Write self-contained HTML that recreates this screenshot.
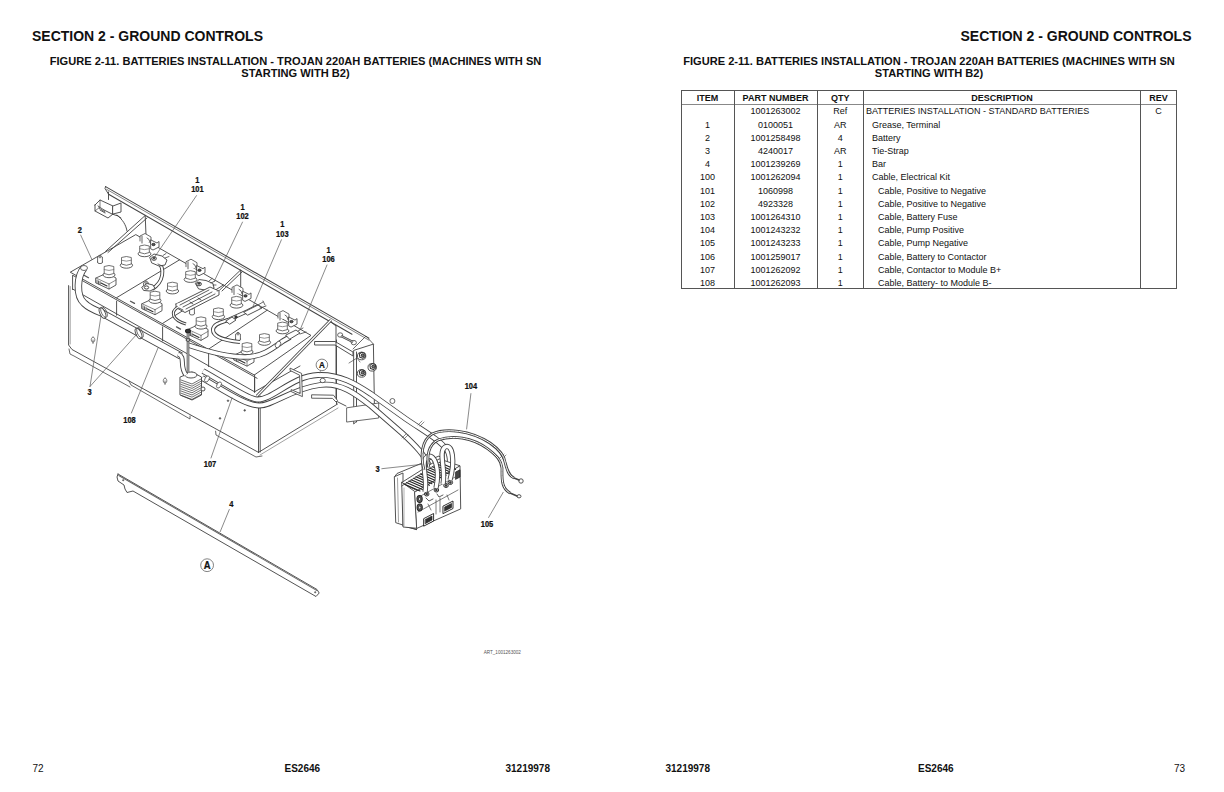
<!DOCTYPE html>
<html><head><meta charset="utf-8">
<style>
html,body{margin:0;padding:0;background:#fff;}
body{width:1224px;height:792px;position:relative;overflow:hidden;font-family:"Liberation Sans",sans-serif;color:#111;}
.t{position:absolute;white-space:nowrap;line-height:1;}
.b{font-weight:bold;}
.c{transform:translateX(-50%);}
.r{transform:translateX(-100%);}
.sec{font-size:14px;font-weight:bold;}
.fig{font-size:11.1px;font-weight:bold;}
.ft{font-size:10px;}
.tb{font-size:9px;}
.ln{position:absolute;background:#555;}
svg{position:absolute;left:0;top:0;}
</style></head><body>
<!-- LEFT PAGE -->
<div class="t sec" style="left:32px;top:29px;">SECTION 2 - GROUND CONTROLS</div>
<div class="t fig c" style="left:295.5px;top:56.1px;">FIGURE 2-11. BATTERIES INSTALLATION - TROJAN 220AH BATTERIES (MACHINES WITH SN</div>
<div class="t fig c" style="left:295.5px;top:68.2px;">STARTING WITH B2)</div>

<div class="t ft" style="left:32.5px;top:763.5px;">72</div>
<div class="t ft b" style="left:284.5px;top:763.5px;">ES2646</div>
<div class="t ft b" style="left:505.5px;top:763.5px;">31219978</div>

<!-- RIGHT PAGE -->
<div class="t sec r" style="left:1191.5px;top:29px;">SECTION 2 - GROUND CONTROLS</div>
<div class="t fig c" style="left:929px;top:56.1px;">FIGURE 2-11. BATTERIES INSTALLATION - TROJAN 220AH BATTERIES (MACHINES WITH SN</div>
<div class="t fig c" style="left:929px;top:68.2px;">STARTING WITH B2)</div>

<div class="t ft b" style="left:665.5px;top:763.5px;">31219978</div>
<div class="t ft b" style="left:918px;top:763.5px;">ES2646</div>
<div class="t ft" style="left:1174px;top:763.5px;">73</div>

<!-- DRAWING -->
<svg width="1224" height="792" viewBox="0 0 1224 792">
<!--SVG-->
<polyline points="105.6,186.6 369.0,338.1" fill="none" stroke="#444" stroke-width="1.03" stroke-linejoin="round" stroke-linecap="round"/>
<polyline points="106.6,189.3 369.0,340.2" fill="none" stroke="#666" stroke-width="0.80" stroke-linejoin="round" stroke-linecap="round"/>
<polyline points="108.6,194.3 352.0,334.3" fill="none" stroke="#444" stroke-width="1.03" stroke-linejoin="round" stroke-linecap="round"/>
<polyline points="105.6,186.6 105.0,188.5 108.6,194.3" fill="none" stroke="#444" stroke-width="0.92" stroke-linejoin="round" stroke-linecap="round"/>
<line x1="108.5" y1="192.0" x2="108.5" y2="199.5" stroke="#444" stroke-width="0.92" stroke-linecap="round"/>
<polygon points="95.0,205.0 100.0,200.0 113.0,206.0 113.0,214.0 108.0,218.0 95.0,211.0 95.0,205.0" fill="#fff" stroke="#444" stroke-width="0.92" stroke-linejoin="round" stroke-linecap="round"/>
<polyline points="100.0,200.0 100.0,207.0 95.0,211.0" fill="none" stroke="#444" stroke-width="0.69" stroke-linejoin="round" stroke-linecap="round"/>
<polygon points="113.0,206.0 121.0,203.0 121.0,212.0 113.0,214.0" fill="#fff" stroke="#444" stroke-width="0.92" stroke-linejoin="round" stroke-linecap="round"/>
<polyline points="104.0,210.0 112.0,214.0 118.0,216.0 121.0,218.0" fill="none" stroke="#444" stroke-width="0.92" stroke-linejoin="round" stroke-linecap="round"/>
<path d="M98,206 l6,4 M99,208 l6,4 M100,210 l5,3" fill="none" stroke="#333" stroke-width="0.80" stroke-linejoin="round" stroke-linecap="round"/>
<path d="M117,215 C123,220 126,225 127,231" fill="none" stroke="#444" stroke-width="0.92" stroke-linejoin="round" stroke-linecap="round"/>
<polyline points="105.5,251.4 145.2,215.5 146.2,240.0" fill="none" stroke="#444" stroke-width="0.92" stroke-linejoin="round" stroke-linecap="round"/>
<line x1="108.0" y1="252.5" x2="147.0" y2="218.0" stroke="#444" stroke-width="0.92" stroke-linecap="round"/>
<polyline points="219.5,290.2 240.7,269.9 240.7,292.0" fill="none" stroke="#444" stroke-width="0.92" stroke-linejoin="round" stroke-linecap="round"/>
<line x1="222.0" y1="291.0" x2="242.0" y2="272.0" stroke="#444" stroke-width="0.92" stroke-linecap="round"/>
<polyline points="68.6,285.6 68.6,345.0 72.0,349.5 258.5,452.4" fill="none" stroke="#444" stroke-width="0.92" stroke-linejoin="round" stroke-linecap="round"/>
<polyline points="70.2,286.5 70.2,344.0" fill="none" stroke="#777" stroke-width="0.69" stroke-linejoin="round" stroke-linecap="round"/>
<polyline points="69.0,349.0 70.0,354.0 74.0,356.0 130.0,387.0" fill="none" stroke="#444" stroke-width="0.80" stroke-linejoin="round" stroke-linecap="round"/>
<polyline points="129.0,381.0 131.0,385.0 190.0,419.0 190.0,416.0" fill="none" stroke="#444" stroke-width="0.80" stroke-linejoin="round" stroke-linecap="round"/>
<polyline points="215.6,431.2 216.0,435.0 256.0,457.0 262.0,456.0" fill="none" stroke="#444" stroke-width="0.80" stroke-linejoin="round" stroke-linecap="round"/>
<line x1="258.5" y1="395.0" x2="258.5" y2="452.4" stroke="#444" stroke-width="0.92" stroke-linecap="round"/>
<line x1="260.2" y1="396.0" x2="260.2" y2="452.0" stroke="#444" stroke-width="0.92" stroke-linecap="round"/>
<polyline points="258.5,452.4 337.6,404.0" fill="none" stroke="#444" stroke-width="0.92" stroke-linejoin="round" stroke-linecap="round"/>
<polyline points="260.0,455.0 338.0,408.0" fill="none" stroke="#777" stroke-width="0.69" stroke-linejoin="round" stroke-linecap="round"/>
<line x1="336.5" y1="340.0" x2="336.5" y2="404.0" stroke="#444" stroke-width="0.92" stroke-linecap="round"/>
<path d="M93,337 a1.8,2.6 0 1 0 0.1,0 M93,340 l0,3.5" fill="none" stroke="#555" stroke-width="0.80" stroke-linejoin="round" stroke-linecap="round"/>
<path d="M165,378 a1.8,2.6 0 1 0 0.1,0 M165,381 l0,3.5" fill="none" stroke="#555" stroke-width="0.80" stroke-linejoin="round" stroke-linecap="round"/>
<ellipse cx="228.0" cy="400.7" rx="0.8" ry="0.8" fill="#555" stroke="#555" stroke-width="0.69"/>
<ellipse cx="244.7" cy="410.4" rx="0.8" ry="0.8" fill="#555" stroke="#555" stroke-width="0.69"/>
<ellipse cx="220.0" cy="418.4" rx="0.8" ry="0.8" fill="#555" stroke="#555" stroke-width="0.69"/>
<polygon points="70.6,272.0 135.8,234.6 311.0,335.4 254.6,374.8" fill="none" stroke="#444" stroke-width="0.92" stroke-linejoin="round" stroke-linecap="round"/>
<line x1="116.6" y1="297.7" x2="179.6" y2="259.8" stroke="#444" stroke-width="0.92" stroke-linecap="round"/>
<line x1="162.6" y1="323.4" x2="223.4" y2="285.0" stroke="#444" stroke-width="0.92" stroke-linecap="round"/>
<line x1="208.6" y1="349.1" x2="267.2" y2="310.2" stroke="#444" stroke-width="0.92" stroke-linecap="round"/>
<line x1="73.1" y1="275.5" x2="257.1" y2="378.3" stroke="#444" stroke-width="0.92" stroke-linecap="round"/>
<line x1="72.6" y1="275.5" x2="72.6" y2="289.5" stroke="#444" stroke-width="0.92" stroke-linecap="round"/>
<line x1="116.6" y1="301.2" x2="116.6" y2="315.2" stroke="#444" stroke-width="0.92" stroke-linecap="round"/>
<line x1="162.6" y1="326.9" x2="162.6" y2="340.9" stroke="#444" stroke-width="0.92" stroke-linecap="round"/>
<line x1="208.6" y1="352.6" x2="208.6" y2="366.6" stroke="#444" stroke-width="0.92" stroke-linecap="round"/>
<line x1="254.6" y1="378.3" x2="254.6" y2="392.3" stroke="#444" stroke-width="0.92" stroke-linecap="round"/>
<line x1="72.6" y1="289.0" x2="254.6" y2="391.8" stroke="#444" stroke-width="0.92" stroke-linecap="round"/>
<line x1="254.6" y1="374.8" x2="254.6" y2="391.8" stroke="#444" stroke-width="0.92" stroke-linecap="round"/>
<line x1="254.6" y1="391.8" x2="300.0" y2="366.0" stroke="#444" stroke-width="0.92" stroke-linecap="round"/>
<polyline points="140.0,241.0 140.0,236.0 145.0,233.5 151.0,237.0 151.0,243.0" fill="#fff" stroke="#444" stroke-width="0.80" stroke-linejoin="round" stroke-linecap="round"/>
<polygon points="151.0,240.0 157.0,243.0 159.0,241.5 159.0,247.0 153.0,250.0 151.0,249.0" fill="#fff" stroke="#444" stroke-width="0.86" stroke-linejoin="round" stroke-linecap="round"/>
<line x1="142.0" y1="236.0" x2="142.0" y2="243.0" stroke="#666" stroke-width="1.03" stroke-linecap="round"/>
<path d="M147,238.0 l2,1.5 l1,3" fill="none" stroke="#444" stroke-width="0.80" stroke-linejoin="round" stroke-linecap="round"/>
<ellipse cx="144.5" cy="253.8" rx="6.4" ry="2.9" fill="#fff" stroke="#444" stroke-width="0.86"/>
<path d="M139.7,246.0 L139.7,252.5 Q144.5,255.1 149.3,252.5 L149.3,246.0 Q144.5,244.0 139.7,246.0 Z" fill="#fff" stroke="#444" stroke-width="0.75"/>
<path d="M139.7,248.8 Q144.5,250.6 149.3,248.8" fill="none" stroke="#666" stroke-width="0.69" stroke-linejoin="round" stroke-linecap="round"/>
<ellipse cx="126.4" cy="265.3" rx="6.2" ry="2.9" fill="#fff" stroke="#444" stroke-width="0.86"/>
<path d="M121.5,257.5 L121.5,264.0 Q126.4,266.6 131.3,264.0 L131.3,257.5 Q126.4,255.5 121.5,257.5 Z" fill="#fff" stroke="#444" stroke-width="0.75"/>
<path d="M121.5,260.3 Q126.4,262.1 131.3,260.3" fill="none" stroke="#666" stroke-width="0.69" stroke-linejoin="round" stroke-linecap="round"/>
<polygon points="96.0,278.0 107.0,273.0 116.0,278.0 116.0,285.0 109.0,289.0 96.0,283.0" fill="#fff" stroke="#444" stroke-width="0.86" stroke-linejoin="round" stroke-linecap="round"/>
<line x1="96.0" y1="278.0" x2="109.0" y2="284.0" stroke="#555" stroke-width="0.69" stroke-linecap="round"/>
<line x1="109.0" y1="284.0" x2="109.0" y2="289.0" stroke="#555" stroke-width="0.69" stroke-linecap="round"/>
<line x1="109.0" y1="284.0" x2="116.0" y2="280.0" stroke="#555" stroke-width="0.69" stroke-linecap="round"/>
<path d="M97,280.0 l0,3 M98.5,281.0 l0,3 M100,281.5 l0,3" fill="none" stroke="#555" stroke-width="0.92" stroke-linejoin="round" stroke-linecap="round"/>
<path d="M101,283.0 l6,3" fill="none" stroke="#333" stroke-width="1.15" stroke-linejoin="round" stroke-linecap="round"/>
<ellipse cx="109.0" cy="274.8" rx="6.0" ry="2.9" fill="#fff" stroke="#444" stroke-width="0.86"/>
<path d="M104.2,266.5 L104.2,273.5 Q109.0,276.1 113.8,273.5 L113.8,266.5 Q109.0,264.5 104.2,266.5 Z" fill="#fff" stroke="#444" stroke-width="0.75"/>
<path d="M104.2,269.6 Q109.0,271.4 113.8,269.6" fill="none" stroke="#666" stroke-width="0.69" stroke-linejoin="round" stroke-linecap="round"/>
<path d="M84.5,275.5 l4,2.2" fill="none" stroke="#555" stroke-width="1.26" stroke-linejoin="round" stroke-linecap="round"/>
<ellipse cx="153.5" cy="244.5" rx="1.6" ry="1.2" fill="#555" stroke="#222" stroke-width="0.80"/>
<ellipse cx="100.0" cy="262.0" rx="2.6" ry="1.6" fill="#fff" stroke="#444" stroke-width="0.80"/>
<polyline points="97.6,262.0 97.6,257.0 100.0,255.0 102.4,257.0 102.4,262.0" fill="#fff" stroke="#444" stroke-width="0.80" stroke-linejoin="round" stroke-linecap="round"/>
<ellipse cx="100.0" cy="257.0" rx="1.2" ry="0.8" fill="#fff" stroke="#444" stroke-width="0.69"/>
<polyline points="186.0,266.7 186.0,261.7 191.0,259.2 197.0,262.7 197.0,268.7" fill="#fff" stroke="#444" stroke-width="0.80" stroke-linejoin="round" stroke-linecap="round"/>
<polygon points="197.0,265.7 203.0,268.7 205.0,267.2 205.0,272.7 199.0,275.7 197.0,274.7" fill="#fff" stroke="#444" stroke-width="0.86" stroke-linejoin="round" stroke-linecap="round"/>
<line x1="188.0" y1="261.7" x2="188.0" y2="268.7" stroke="#666" stroke-width="1.03" stroke-linecap="round"/>
<path d="M193,263.7 l2,1.5 l1,3" fill="none" stroke="#444" stroke-width="0.80" stroke-linejoin="round" stroke-linecap="round"/>
<ellipse cx="190.5" cy="279.5" rx="6.4" ry="2.9" fill="#fff" stroke="#444" stroke-width="0.86"/>
<path d="M185.7,271.7 L185.7,278.2 Q190.5,280.8 195.3,278.2 L195.3,271.7 Q190.5,269.7 185.7,271.7 Z" fill="#fff" stroke="#444" stroke-width="0.75"/>
<path d="M185.7,274.5 Q190.5,276.3 195.3,274.5" fill="none" stroke="#666" stroke-width="0.69" stroke-linejoin="round" stroke-linecap="round"/>
<ellipse cx="172.4" cy="291.0" rx="6.2" ry="2.9" fill="#fff" stroke="#444" stroke-width="0.86"/>
<path d="M167.5,283.2 L167.5,289.7 Q172.4,292.3 177.3,289.7 L177.3,283.2 Q172.4,281.2 167.5,283.2 Z" fill="#fff" stroke="#444" stroke-width="0.75"/>
<path d="M167.5,286.0 Q172.4,287.8 177.3,286.0" fill="none" stroke="#666" stroke-width="0.69" stroke-linejoin="round" stroke-linecap="round"/>
<polygon points="142.0,303.7 153.0,298.7 162.0,303.7 162.0,310.7 155.0,314.7 142.0,308.7" fill="#fff" stroke="#444" stroke-width="0.86" stroke-linejoin="round" stroke-linecap="round"/>
<line x1="142.0" y1="303.7" x2="155.0" y2="309.7" stroke="#555" stroke-width="0.69" stroke-linecap="round"/>
<line x1="155.0" y1="309.7" x2="155.0" y2="314.7" stroke="#555" stroke-width="0.69" stroke-linecap="round"/>
<line x1="155.0" y1="309.7" x2="162.0" y2="305.7" stroke="#555" stroke-width="0.69" stroke-linecap="round"/>
<path d="M143,305.7 l0,3 M144.5,306.7 l0,3 M146,307.2 l0,3" fill="none" stroke="#555" stroke-width="0.92" stroke-linejoin="round" stroke-linecap="round"/>
<path d="M147,308.7 l6,3" fill="none" stroke="#333" stroke-width="1.15" stroke-linejoin="round" stroke-linecap="round"/>
<ellipse cx="155.0" cy="300.5" rx="6.0" ry="2.9" fill="#fff" stroke="#444" stroke-width="0.86"/>
<path d="M150.2,292.2 L150.2,299.2 Q155.0,301.8 159.8,299.2 L159.8,292.2 Q155.0,290.2 150.2,292.2 Z" fill="#fff" stroke="#444" stroke-width="0.75"/>
<path d="M150.2,295.2 Q155.0,297.1 159.8,295.2" fill="none" stroke="#666" stroke-width="0.69" stroke-linejoin="round" stroke-linecap="round"/>
<path d="M130.5,301.2 l4,2.2" fill="none" stroke="#555" stroke-width="1.26" stroke-linejoin="round" stroke-linecap="round"/>
<ellipse cx="199.5" cy="270.2" rx="1.6" ry="1.2" fill="#555" stroke="#222" stroke-width="0.80"/>
<ellipse cx="146.0" cy="287.7" rx="2.6" ry="1.6" fill="#fff" stroke="#444" stroke-width="0.80"/>
<polyline points="143.6,287.7 143.6,282.7 146.0,280.7 148.4,282.7 148.4,287.7" fill="#fff" stroke="#444" stroke-width="0.80" stroke-linejoin="round" stroke-linecap="round"/>
<ellipse cx="146.0" cy="282.7" rx="1.2" ry="0.8" fill="#fff" stroke="#444" stroke-width="0.69"/>
<polyline points="232.0,292.4 232.0,287.4 237.0,284.9 243.0,288.4 243.0,294.4" fill="#fff" stroke="#444" stroke-width="0.80" stroke-linejoin="round" stroke-linecap="round"/>
<polygon points="243.0,291.4 249.0,294.4 251.0,292.9 251.0,298.4 245.0,301.4 243.0,300.4" fill="#fff" stroke="#444" stroke-width="0.86" stroke-linejoin="round" stroke-linecap="round"/>
<line x1="234.0" y1="287.4" x2="234.0" y2="294.4" stroke="#666" stroke-width="1.03" stroke-linecap="round"/>
<path d="M239,289.4 l2,1.5 l1,3" fill="none" stroke="#444" stroke-width="0.80" stroke-linejoin="round" stroke-linecap="round"/>
<ellipse cx="236.5" cy="305.2" rx="6.4" ry="2.9" fill="#fff" stroke="#444" stroke-width="0.86"/>
<path d="M231.7,297.4 L231.7,303.9 Q236.5,306.5 241.3,303.9 L241.3,297.4 Q236.5,295.4 231.7,297.4 Z" fill="#fff" stroke="#444" stroke-width="0.75"/>
<path d="M231.7,300.2 Q236.5,302.0 241.3,300.2" fill="none" stroke="#666" stroke-width="0.69" stroke-linejoin="round" stroke-linecap="round"/>
<ellipse cx="218.4" cy="316.7" rx="6.2" ry="2.9" fill="#fff" stroke="#444" stroke-width="0.86"/>
<path d="M213.5,308.9 L213.5,315.4 Q218.4,318.0 223.3,315.4 L223.3,308.9 Q218.4,306.9 213.5,308.9 Z" fill="#fff" stroke="#444" stroke-width="0.75"/>
<path d="M213.5,311.7 Q218.4,313.5 223.3,311.7" fill="none" stroke="#666" stroke-width="0.69" stroke-linejoin="round" stroke-linecap="round"/>
<polygon points="188.0,329.4 199.0,324.4 208.0,329.4 208.0,336.4 201.0,340.4 188.0,334.4" fill="#fff" stroke="#444" stroke-width="0.86" stroke-linejoin="round" stroke-linecap="round"/>
<line x1="188.0" y1="329.4" x2="201.0" y2="335.4" stroke="#555" stroke-width="0.69" stroke-linecap="round"/>
<line x1="201.0" y1="335.4" x2="201.0" y2="340.4" stroke="#555" stroke-width="0.69" stroke-linecap="round"/>
<line x1="201.0" y1="335.4" x2="208.0" y2="331.4" stroke="#555" stroke-width="0.69" stroke-linecap="round"/>
<path d="M189,331.4 l0,3 M190.5,332.4 l0,3 M192,332.9 l0,3" fill="none" stroke="#555" stroke-width="0.92" stroke-linejoin="round" stroke-linecap="round"/>
<path d="M193,334.4 l6,3" fill="none" stroke="#333" stroke-width="1.15" stroke-linejoin="round" stroke-linecap="round"/>
<ellipse cx="201.0" cy="326.2" rx="6.0" ry="2.9" fill="#fff" stroke="#444" stroke-width="0.86"/>
<path d="M196.2,317.9 L196.2,324.9 Q201.0,327.5 205.8,324.9 L205.8,317.9 Q201.0,315.9 196.2,317.9 Z" fill="#fff" stroke="#444" stroke-width="0.75"/>
<path d="M196.2,320.9 Q201.0,322.8 205.8,320.9" fill="none" stroke="#666" stroke-width="0.69" stroke-linejoin="round" stroke-linecap="round"/>
<path d="M176.5,326.9 l4,2.2" fill="none" stroke="#555" stroke-width="1.26" stroke-linejoin="round" stroke-linecap="round"/>
<ellipse cx="245.5" cy="295.9" rx="1.6" ry="1.2" fill="#555" stroke="#222" stroke-width="0.80"/>
<ellipse cx="192.0" cy="313.4" rx="2.6" ry="1.6" fill="#fff" stroke="#444" stroke-width="0.80"/>
<polyline points="189.6,313.4 189.6,308.4 192.0,306.4 194.4,308.4 194.4,313.4" fill="#fff" stroke="#444" stroke-width="0.80" stroke-linejoin="round" stroke-linecap="round"/>
<ellipse cx="192.0" cy="308.4" rx="1.2" ry="0.8" fill="#fff" stroke="#444" stroke-width="0.69"/>
<polyline points="278.0,318.1 278.0,313.1 283.0,310.6 289.0,314.1 289.0,320.1" fill="#fff" stroke="#444" stroke-width="0.80" stroke-linejoin="round" stroke-linecap="round"/>
<polygon points="289.0,317.1 295.0,320.1 297.0,318.6 297.0,324.1 291.0,327.1 289.0,326.1" fill="#fff" stroke="#444" stroke-width="0.86" stroke-linejoin="round" stroke-linecap="round"/>
<line x1="280.0" y1="313.1" x2="280.0" y2="320.1" stroke="#666" stroke-width="1.03" stroke-linecap="round"/>
<path d="M285,315.1 l2,1.5 l1,3" fill="none" stroke="#444" stroke-width="0.80" stroke-linejoin="round" stroke-linecap="round"/>
<ellipse cx="282.5" cy="330.9" rx="6.4" ry="2.9" fill="#fff" stroke="#444" stroke-width="0.86"/>
<path d="M277.7,323.1 L277.7,329.6 Q282.5,332.2 287.3,329.6 L287.3,323.1 Q282.5,321.1 277.7,323.1 Z" fill="#fff" stroke="#444" stroke-width="0.75"/>
<path d="M277.7,325.9 Q282.5,327.7 287.3,325.9" fill="none" stroke="#666" stroke-width="0.69" stroke-linejoin="round" stroke-linecap="round"/>
<ellipse cx="264.4" cy="342.4" rx="6.2" ry="2.9" fill="#fff" stroke="#444" stroke-width="0.86"/>
<path d="M259.5,334.6 L259.5,341.1 Q264.4,343.7 269.3,341.1 L269.3,334.6 Q264.4,332.6 259.5,334.6 Z" fill="#fff" stroke="#444" stroke-width="0.75"/>
<path d="M259.5,337.4 Q264.4,339.2 269.3,337.4" fill="none" stroke="#666" stroke-width="0.69" stroke-linejoin="round" stroke-linecap="round"/>
<polygon points="234.0,355.1 245.0,350.1 254.0,355.1 254.0,362.1 247.0,366.1 234.0,360.1" fill="#fff" stroke="#444" stroke-width="0.86" stroke-linejoin="round" stroke-linecap="round"/>
<line x1="234.0" y1="355.1" x2="247.0" y2="361.1" stroke="#555" stroke-width="0.69" stroke-linecap="round"/>
<line x1="247.0" y1="361.1" x2="247.0" y2="366.1" stroke="#555" stroke-width="0.69" stroke-linecap="round"/>
<line x1="247.0" y1="361.1" x2="254.0" y2="357.1" stroke="#555" stroke-width="0.69" stroke-linecap="round"/>
<path d="M235,357.1 l0,3 M236.5,358.1 l0,3 M238,358.6 l0,3" fill="none" stroke="#555" stroke-width="0.92" stroke-linejoin="round" stroke-linecap="round"/>
<path d="M239,360.1 l6,3" fill="none" stroke="#333" stroke-width="1.15" stroke-linejoin="round" stroke-linecap="round"/>
<ellipse cx="247.0" cy="351.9" rx="6.0" ry="2.9" fill="#fff" stroke="#444" stroke-width="0.86"/>
<path d="M242.2,343.6 L242.2,350.6 Q247.0,353.2 251.8,350.6 L251.8,343.6 Q247.0,341.6 242.2,343.6 Z" fill="#fff" stroke="#444" stroke-width="0.75"/>
<path d="M242.2,346.7 Q247.0,348.5 251.8,346.7" fill="none" stroke="#666" stroke-width="0.69" stroke-linejoin="round" stroke-linecap="round"/>
<path d="M222.5,352.6 l4,2.2" fill="none" stroke="#555" stroke-width="1.26" stroke-linejoin="round" stroke-linecap="round"/>
<ellipse cx="291.5" cy="321.6" rx="1.6" ry="1.2" fill="#555" stroke="#222" stroke-width="0.80"/>
<ellipse cx="238.0" cy="339.1" rx="2.6" ry="1.6" fill="#fff" stroke="#444" stroke-width="0.80"/>
<polyline points="235.6,339.1 235.6,334.1 238.0,332.1 240.4,334.1 240.4,339.1" fill="#fff" stroke="#444" stroke-width="0.80" stroke-linejoin="round" stroke-linecap="round"/>
<ellipse cx="238.0" cy="334.1" rx="1.2" ry="0.8" fill="#fff" stroke="#444" stroke-width="0.69"/>
<path d="M158,262 C165,268 164,282 152,289" fill="none" stroke="#444" stroke-width="3.8" stroke-linecap="butt" stroke-linejoin="round"/>
<path d="M158,262 C165,268 164,282 152,289" fill="none" stroke="#fff" stroke-width="1.9999999999999998" stroke-linecap="butt" stroke-linejoin="round"/>
<polygon points="150.0,257.0 154.0,254.0 162.0,256.0 167.0,260.0 165.0,265.0 159.0,266.0 152.0,263.0" fill="#fff" stroke="#444" stroke-width="0.92" stroke-linejoin="round" stroke-linecap="round"/>
<ellipse cx="154.0" cy="258.5" rx="2.4" ry="1.8" fill="#fff" stroke="#333" stroke-width="0.92"/>
<ellipse cx="154.0" cy="258.2" rx="1" ry="0.8" fill="#555" stroke="#222" stroke-width="0.69"/>
<path d="M163,255.5 l3,-2 M165,258 l4,-1.5 M158,264 l4,2" fill="none" stroke="#444" stroke-width="0.80" stroke-linejoin="round" stroke-linecap="round"/>
<polygon points="142.0,287.0 147.0,283.5 153.0,285.0 155.0,288.5 150.0,291.0 144.0,290.5" fill="#fff" stroke="#444" stroke-width="0.92" stroke-linejoin="round" stroke-linecap="round"/>
<ellipse cx="146.5" cy="287.5" rx="2.2" ry="1.6" fill="#fff" stroke="#333" stroke-width="0.92"/>
<polygon points="195.5,283.0 199.0,279.5 206.0,280.5 213.0,283.5 214.0,288.0 208.0,290.5 199.0,289.0" fill="#fff" stroke="#444" stroke-width="0.92" stroke-linejoin="round" stroke-linecap="round"/>
<ellipse cx="199.0" cy="284.0" rx="2.4" ry="1.8" fill="#fff" stroke="#333" stroke-width="0.92"/>
<ellipse cx="199.0" cy="283.6" rx="1" ry="0.8" fill="#555" stroke="#222" stroke-width="0.69"/>
<path d="M209,281 l3,-2.5 M211,283 l4,-2 M213,285 l3,0" fill="none" stroke="#444" stroke-width="0.80" stroke-linejoin="round" stroke-linecap="round"/>
<polygon points="176.0,304.0 210.0,287.0 219.0,291.0 185.0,309.0" fill="#fff" stroke="#444" stroke-width="0.92" stroke-linejoin="round" stroke-linecap="round"/>
<polyline points="176.0,304.0 176.0,307.5 185.0,312.5 219.0,295.0 219.0,291.0" fill="#fff" stroke="#444" stroke-width="0.92" stroke-linejoin="round" stroke-linecap="round"/>
<path d="M180,305 l29,-15 M183,307 l29,-15 M186,309 l29,-15 M179,308 l4,2 M190,302 l3,2 M198,298 l3,2" fill="none" stroke="#333" stroke-width="0.80" stroke-linejoin="round" stroke-linecap="round"/>
<path d="M178,307 C170,312 172,320 186,324" fill="none" stroke="#444" stroke-width="3" stroke-linecap="butt" stroke-linejoin="round"/>
<path d="M178,307 C170,312 172,320 186,324" fill="none" stroke="#fff" stroke-width="1.2" stroke-linecap="butt" stroke-linejoin="round"/>
<path d="M240,342 C230,341 213,338 213,330 C213,324 222,322 228,320 L248,311 L258,306" fill="none" stroke="#444" stroke-width="4" stroke-linecap="butt" stroke-linejoin="round"/>
<path d="M240,342 C230,341 213,338 213,330 C213,324 222,322 228,320 L248,311 L258,306" fill="none" stroke="#fff" stroke-width="2.2" stroke-linecap="butt" stroke-linejoin="round"/>
<polygon points="226.0,321.0 232.0,317.0 236.0,320.0 230.0,324.0" fill="#fff" stroke="#444" stroke-width="0.92" stroke-linejoin="round" stroke-linecap="round"/>
<polygon points="244.0,312.0 258.0,305.0 262.0,308.0 248.0,315.0" fill="#fff" stroke="#444" stroke-width="0.92" stroke-linejoin="round" stroke-linecap="round"/>
<ellipse cx="236.0" cy="317.0" rx="1.3" ry="1.3" fill="#333" stroke="#333" stroke-width="0.69"/>
<path d="M258,305 l5,-3 M260,308 l6,-2 M263,301 l2,4" fill="none" stroke="#444" stroke-width="0.80" stroke-linejoin="round" stroke-linecap="round"/>
<path d="M84,268 C77,276 76,296 84,303 C88,307 94,310 102,313 L181,356" fill="none" stroke="#444" stroke-width="7.5" stroke-linecap="butt" stroke-linejoin="round"/>
<path d="M84,268 C77,276 76,296 84,303 C88,307 94,310 102,313 L181,356" fill="none" stroke="#fff" stroke-width="5.7" stroke-linecap="butt" stroke-linejoin="round"/>
<ellipse cx="102.5" cy="313" rx="2.6" ry="5.6" fill="#fff" stroke="#444" stroke-width="0.9" transform="rotate(-25 102.5 313)"/>
<ellipse cx="104.0" cy="312.2" rx="2.6" ry="5.6" fill="none" stroke="#555" stroke-width="0.8" transform="rotate(-25 104.0 312.2)"/>
<ellipse cx="138.5" cy="333.5" rx="2.6" ry="5.6" fill="#fff" stroke="#444" stroke-width="0.9" transform="rotate(-25 138.5 333.5)"/>
<ellipse cx="140.0" cy="332.7" rx="2.6" ry="5.6" fill="none" stroke="#555" stroke-width="0.8" transform="rotate(-25 140.0 332.7)"/>
<ellipse cx="84.0" cy="268.0" rx="3.5" ry="2.5" fill="#fff" stroke="#444" stroke-width="0.80"/>
<path d="M188,345 C200,349 225,357 245,357 C262,357 272,349 283,341 L290,337" fill="none" stroke="#444" stroke-width="5.5" stroke-linecap="butt" stroke-linejoin="round"/>
<path d="M188,345 C200,349 225,357 245,357 C262,357 272,349 283,341 L290,337" fill="none" stroke="#fff" stroke-width="3.7" stroke-linecap="butt" stroke-linejoin="round"/>
<ellipse cx="278" cy="344.5" rx="2.2" ry="3.6" fill="#fff" stroke="#444" stroke-width="0.7" transform="rotate(35 278 344.5)"/>
<polygon points="286.0,335.0 296.0,330.0 300.0,333.0 290.0,339.0" fill="#fff" stroke="#444" stroke-width="0.92" stroke-linejoin="round" stroke-linecap="round"/>
<path d="M298,331 l5,-3 M300,334 l6,-2" fill="none" stroke="#444" stroke-width="0.80" stroke-linejoin="round" stroke-linecap="round"/>
<path d="M331,320 L257,396" fill="none" stroke="#444" stroke-width="3" stroke-linecap="butt" stroke-linejoin="round"/>
<path d="M331,320 L257,396" fill="none" stroke="#fff" stroke-width="1.2" stroke-linecap="butt" stroke-linejoin="round"/>
<polygon points="315.0,341.5 335.0,341.5 353.0,352.0 353.0,356.0 335.0,345.0 315.0,345.0" fill="#fff" stroke="#444" stroke-width="0.92" stroke-linejoin="round" stroke-linecap="round"/>
<polyline points="331.0,322.0 336.0,326.0 336.0,401.0 346.0,406.0" fill="none" stroke="#444" stroke-width="0.92" stroke-linejoin="round" stroke-linecap="round"/>
<polygon points="354.0,350.3 373.4,344.1 374.4,404.0 354.0,423.7" fill="#fff" stroke="#444" stroke-width="0.92" stroke-linejoin="round" stroke-linecap="round"/>
<line x1="356.5" y1="352.0" x2="356.5" y2="422.0" stroke="#444" stroke-width="0.92" stroke-linecap="round"/>
<polyline points="353.0,349.0 366.0,336.0 373.4,344.1" fill="none" stroke="#444" stroke-width="0.80" stroke-linejoin="round" stroke-linecap="round"/>
<ellipse cx="361.6" cy="356.0" rx="4.2" ry="3.8" fill="#fff" stroke="#444" stroke-width="0.92"/>
<polygon points="359.3,354.0 361.6,352.3 364.7,353.3 365.3,356.5 362.9,358.3 359.9,357.3" fill="#fff" stroke="#333" stroke-width="1.03" stroke-linejoin="round" stroke-linecap="round"/>
<ellipse cx="362.7" cy="355.3" rx="1.5" ry="1.4" fill="#777" stroke="#222" stroke-width="0.92"/>
<ellipse cx="372.2" cy="367.3" rx="4.2" ry="3.8" fill="#fff" stroke="#444" stroke-width="0.92"/>
<polygon points="369.9,365.3 372.2,363.6 375.3,364.6 375.9,367.8 373.5,369.6 370.5,368.6" fill="#fff" stroke="#333" stroke-width="1.03" stroke-linejoin="round" stroke-linecap="round"/>
<ellipse cx="373.3" cy="366.6" rx="1.5" ry="1.4" fill="#777" stroke="#222" stroke-width="0.92"/>
<ellipse cx="361.6" cy="373.4" rx="4.2" ry="3.8" fill="#fff" stroke="#444" stroke-width="0.92"/>
<polygon points="359.3,371.4 361.6,369.7 364.7,370.7 365.3,373.9 362.9,375.7 359.9,374.7" fill="#fff" stroke="#333" stroke-width="1.03" stroke-linejoin="round" stroke-linecap="round"/>
<ellipse cx="362.7" cy="372.7" rx="1.5" ry="1.4" fill="#777" stroke="#222" stroke-width="0.92"/>
<polygon points="347.0,407.8 378.7,403.0 378.7,418.0 347.0,422.0" fill="#fff" stroke="#444" stroke-width="0.80" stroke-linejoin="round" stroke-linecap="round"/>
<polyline points="349.0,363.0 357.0,358.0 360.0,362.0" fill="none" stroke="#444" stroke-width="0.69" stroke-linejoin="round" stroke-linecap="round"/>
<ellipse cx="340.2" cy="335.0" rx="2.6" ry="2.2" fill="#fff" stroke="#444" stroke-width="0.80"/>
<ellipse cx="353.8" cy="342.6" rx="2.6" ry="2.2" fill="#fff" stroke="#444" stroke-width="0.80"/>
<path d="M341,336 L353,342" fill="none" stroke="#444" stroke-width="2.4" stroke-linecap="butt" stroke-linejoin="round"/>
<path d="M341,336 L353,342" fill="none" stroke="#fff" stroke-width="0.5999999999999999" stroke-linecap="butt" stroke-linejoin="round"/>
<path d="M202,378 C225,391 245,405 259,405.5 C273,406 290,389 320,385 C340,382 356,394 371,406 L402,433 C415,445 425,455 430,468 C432,476 433,484 432,492" fill="none" stroke="#444" stroke-width="5.8" stroke-linecap="butt" stroke-linejoin="round"/>
<path d="M202,378 C225,391 245,405 259,405.5 C273,406 290,389 320,385 C340,382 356,394 371,406 L402,433 C415,445 425,455 430,468 C432,476 433,484 432,492" fill="none" stroke="#fff" stroke-width="4.0" stroke-linecap="butt" stroke-linejoin="round"/>
<path d="M203,371 C228,385 248,399 257,399.5 C273,400 292,376 318,375 C340,374 356,384 371,394 L406,419 C425,432 440,440 447,450 C452,458 450,470 447,482" fill="none" stroke="#444" stroke-width="5.8" stroke-linecap="butt" stroke-linejoin="round"/>
<path d="M203,371 C228,385 248,399 257,399.5 C273,400 292,376 318,375 C340,374 356,384 371,394 L406,419 C425,432 440,440 447,450 C452,458 450,470 447,482" fill="none" stroke="#fff" stroke-width="4.0" stroke-linecap="butt" stroke-linejoin="round"/>
<polygon points="290.4,368.3 301.6,373.4 302.4,396.6 291.2,391.6 291.2,389.6 300.2,393.6 299.6,375.2 290.4,370.6" fill="#fff" stroke="#444" stroke-width="0.86" stroke-linejoin="round" stroke-linecap="round"/>
<path d="M418,425 l4,-4 M420,426 l4,-4" fill="none" stroke="#555" stroke-width="0.69" stroke-linejoin="round" stroke-linecap="round"/>
<path d="M402,438 l4,-4 M404,439 l4,-4" fill="none" stroke="#555" stroke-width="0.69" stroke-linejoin="round" stroke-linecap="round"/>
<path d="M500,458 l4,-4 M502,459 l4,-4" fill="none" stroke="#555" stroke-width="0.69" stroke-linejoin="round" stroke-linecap="round"/>
<polygon points="312.0,394.8 333.5,395.2 337.5,400.5 336.0,402.0 332.5,398.4 312.0,398.2" fill="#fff" stroke="#444" stroke-width="0.86" stroke-linejoin="round" stroke-linecap="round"/>
<ellipse cx="322.7" cy="380.5" rx="2.6" ry="2.2" fill="#fff" stroke="#444" stroke-width="0.80"/>
<ellipse cx="392.4" cy="401.0" rx="2.5" ry="2.5" fill="#fff" stroke="#444" stroke-width="0.80"/>
<ellipse cx="207" cy="379" rx="2" ry="3.4" fill="#fff" stroke="#444" stroke-width="0.7" transform="rotate(30 207 379)"/>
<ellipse cx="219" cy="385" rx="2" ry="3.4" fill="#fff" stroke="#444" stroke-width="0.7" transform="rotate(30 219 385)"/>
<polygon points="180.3,377.0 192.0,372.0 201.5,377.0 201.5,395.0 192.0,400.0 180.3,395.0" fill="#fff" stroke="#444" stroke-width="0.92" stroke-linejoin="round" stroke-linecap="round"/>
<path d="M181,380.0 L192,384.0 L201,379.0" fill="none" stroke="#333" stroke-width="0.69" stroke-linejoin="round" stroke-linecap="round"/>
<path d="M181,382.2 L192,386.2 L201,381.2" fill="none" stroke="#333" stroke-width="0.69" stroke-linejoin="round" stroke-linecap="round"/>
<path d="M181,384.4 L192,388.4 L201,383.4" fill="none" stroke="#333" stroke-width="0.69" stroke-linejoin="round" stroke-linecap="round"/>
<path d="M181,386.6 L192,390.6 L201,385.6" fill="none" stroke="#333" stroke-width="0.69" stroke-linejoin="round" stroke-linecap="round"/>
<path d="M181,388.8 L192,392.8 L201,387.8" fill="none" stroke="#333" stroke-width="0.69" stroke-linejoin="round" stroke-linecap="round"/>
<path d="M181,391.0 L192,395.0 L201,390.0" fill="none" stroke="#333" stroke-width="0.69" stroke-linejoin="round" stroke-linecap="round"/>
<path d="M181,393.2 L192,397.2 L201,392.2" fill="none" stroke="#333" stroke-width="0.69" stroke-linejoin="round" stroke-linecap="round"/>
<path d="M181,395.4 L192,399.4 L201,394.4" fill="none" stroke="#333" stroke-width="0.69" stroke-linejoin="round" stroke-linecap="round"/>
<ellipse cx="191.0" cy="375.0" rx="6" ry="3" fill="#fff" stroke="#444" stroke-width="0.92"/>
<path d="M188,332 L188,372" fill="none" stroke="#444" stroke-width="2.6" stroke-linecap="butt" stroke-linejoin="round"/>
<path d="M188,332 L188,372" fill="none" stroke="#fff" stroke-width="0.8" stroke-linecap="butt" stroke-linejoin="round"/>
<ellipse cx="188.0" cy="331.0" rx="2.5" ry="1.8" fill="#333" stroke="#222" stroke-width="1.03"/>
<ellipse cx="188.0" cy="340.0" rx="2" ry="1.2" fill="#fff" stroke="#222" stroke-width="0.92"/>
<path d="M178,354 C186,357 179,366 186,375" fill="none" stroke="#444" stroke-width="5" stroke-linecap="butt" stroke-linejoin="round"/>
<path d="M178,354 C186,357 179,366 186,375" fill="none" stroke="#fff" stroke-width="3.2" stroke-linecap="butt" stroke-linejoin="round"/>
<ellipse cx="203.0" cy="389.0" rx="2" ry="2" fill="#fff" stroke="#444" stroke-width="0.92"/>
<polyline points="394.7,476.6 397.0,473.5 439.0,456.0 441.0,458.0" fill="none" stroke="#444" stroke-width="0.92" stroke-linejoin="round" stroke-linecap="round"/>
<polygon points="394.7,476.6 403.0,473.0 403.0,526.0 417.0,529.7 396.1,522.8" fill="#fff" stroke="#444" stroke-width="0.92" stroke-linejoin="round" stroke-linecap="round"/>
<line x1="397.5" y1="478.0" x2="398.5" y2="522.0" stroke="#777" stroke-width="0.69" stroke-linecap="round"/>
<polygon points="401.7,482.5 439.2,458.9 460.0,465.8 421.1,492.2" fill="#fff" stroke="#444" stroke-width="0.92" stroke-linejoin="round" stroke-linecap="round"/>
<polygon points="401.7,482.5 403.0,527.0 417.0,528.3 414.9,492.0" fill="#fff" stroke="#444" stroke-width="0.92" stroke-linejoin="round" stroke-linecap="round"/>
<polygon points="414.9,492.0 460.0,465.8 460.7,508.9 417.0,528.3" fill="#fff" stroke="#444" stroke-width="0.92" stroke-linejoin="round" stroke-linecap="round"/>
<line x1="404.0" y1="484.0" x2="420.0" y2="491.0" stroke="#222" stroke-width="1.09" stroke-linecap="round"/>
<line x1="406.4" y1="482.6" x2="422.4" y2="489.6" stroke="#222" stroke-width="1.09" stroke-linecap="round"/>
<line x1="408.8" y1="481.1" x2="424.8" y2="488.1" stroke="#222" stroke-width="1.09" stroke-linecap="round"/>
<line x1="411.1" y1="479.7" x2="427.1" y2="486.7" stroke="#222" stroke-width="1.09" stroke-linecap="round"/>
<line x1="413.5" y1="478.2" x2="429.5" y2="485.2" stroke="#222" stroke-width="1.09" stroke-linecap="round"/>
<line x1="415.9" y1="476.8" x2="431.9" y2="483.8" stroke="#222" stroke-width="1.09" stroke-linecap="round"/>
<line x1="418.2" y1="475.4" x2="434.2" y2="482.4" stroke="#222" stroke-width="1.09" stroke-linecap="round"/>
<line x1="420.6" y1="473.9" x2="436.6" y2="480.9" stroke="#222" stroke-width="1.09" stroke-linecap="round"/>
<line x1="423.0" y1="472.5" x2="439.0" y2="479.5" stroke="#222" stroke-width="1.09" stroke-linecap="round"/>
<line x1="425.4" y1="471.1" x2="441.4" y2="478.1" stroke="#222" stroke-width="1.09" stroke-linecap="round"/>
<line x1="427.8" y1="469.6" x2="443.8" y2="476.6" stroke="#222" stroke-width="1.09" stroke-linecap="round"/>
<line x1="430.1" y1="468.2" x2="446.1" y2="475.2" stroke="#222" stroke-width="1.09" stroke-linecap="round"/>
<line x1="432.5" y1="466.8" x2="448.5" y2="473.8" stroke="#222" stroke-width="1.09" stroke-linecap="round"/>
<line x1="434.9" y1="465.3" x2="450.9" y2="472.3" stroke="#222" stroke-width="1.09" stroke-linecap="round"/>
<line x1="437.2" y1="463.9" x2="453.2" y2="470.9" stroke="#222" stroke-width="1.09" stroke-linecap="round"/>
<line x1="439.6" y1="462.4" x2="455.6" y2="469.4" stroke="#222" stroke-width="1.09" stroke-linecap="round"/>
<line x1="404.0" y1="488.0" x2="404.0" y2="526.0" stroke="#777" stroke-width="0.57" stroke-linecap="round"/>
<line x1="401.7" y1="486.0" x2="439.2" y2="462.4" stroke="#444" stroke-width="0.80" stroke-linecap="round"/>
<ellipse cx="419.6" cy="499.0" rx="2.6" ry="3.4" fill="#666" stroke="#222" stroke-width="1.03"/>
<ellipse cx="419.6" cy="499.0" rx="1.2" ry="1.6" fill="#ddd" stroke="#222" stroke-width="0.69"/>
<ellipse cx="419.7" cy="507.5" rx="2.6" ry="3.4" fill="#666" stroke="#222" stroke-width="1.03"/>
<ellipse cx="419.7" cy="507.5" rx="1.2" ry="1.6" fill="#ddd" stroke="#222" stroke-width="0.69"/>
<ellipse cx="426.7" cy="494.0" rx="2.3" ry="2.0" fill="#fff" stroke="#222" stroke-width="0.92"/>
<ellipse cx="426.7" cy="494.0" rx="1" ry="0.9" fill="#444" stroke="#222" stroke-width="0.69"/>
<ellipse cx="436.4" cy="490.0" rx="2.3" ry="2.0" fill="#fff" stroke="#222" stroke-width="0.92"/>
<ellipse cx="436.4" cy="490.0" rx="1" ry="0.9" fill="#444" stroke="#222" stroke-width="0.69"/>
<ellipse cx="446.0" cy="485.5" rx="2.3" ry="2.0" fill="#fff" stroke="#222" stroke-width="0.92"/>
<ellipse cx="446.0" cy="485.5" rx="1" ry="0.9" fill="#444" stroke="#222" stroke-width="0.69"/>
<ellipse cx="450.3" cy="482.5" rx="2.3" ry="2.0" fill="#fff" stroke="#222" stroke-width="0.92"/>
<ellipse cx="450.3" cy="482.5" rx="1" ry="0.9" fill="#444" stroke="#222" stroke-width="0.69"/>
<polygon points="424.0,518.5 433.6,513.5 433.6,521.0 424.0,526.0" fill="#fff" stroke="#222" stroke-width="0.92" stroke-linejoin="round" stroke-linecap="round"/>
<polygon points="425.5,519.5 432.0,516.0 432.0,520.0 425.5,523.5" fill="#333" stroke="#222" stroke-width="0.69" stroke-linejoin="round" stroke-linecap="round"/>
<polygon points="443.3,506.0 453.0,501.0 453.0,508.5 443.3,513.5" fill="#fff" stroke="#222" stroke-width="0.92" stroke-linejoin="round" stroke-linecap="round"/>
<polygon points="444.8,507.0 451.5,503.5 451.5,507.5 444.8,511.0" fill="#333" stroke="#222" stroke-width="0.69" stroke-linejoin="round" stroke-linecap="round"/>
<polygon points="455.8,472.0 460.0,469.8 460.0,477.0 455.8,479.2" fill="#444" stroke="#222" stroke-width="0.80" stroke-linejoin="round" stroke-linecap="round"/>
<path d="M417,498 l40,-22 M418,512 l40,-22 M436,500 l0,14 M440,498 l0,14 M428,504 l3,6 M447,495 l2,5" fill="none" stroke="#444" stroke-width="0.69" stroke-linejoin="round" stroke-linecap="round"/>
<path d="M426,498 l3,3 l4,-2 M437,494 l2,3 l4,-2" fill="none" stroke="#333" stroke-width="0.80" stroke-linejoin="round" stroke-linecap="round"/>
<path d="M425,492 C428,478 420,462 427,457 C435,452 440,470 436,488" fill="none" stroke="#444" stroke-width="5.2" stroke-linecap="butt" stroke-linejoin="round"/>
<path d="M425,492 C428,478 420,462 427,457 C435,452 440,470 436,488" fill="none" stroke="#fff" stroke-width="3.4000000000000004" stroke-linecap="butt" stroke-linejoin="round"/>
<path d="M443,484 C446,470 438,452 445,447 C453,443 455,462 450,480" fill="none" stroke="#444" stroke-width="5.2" stroke-linecap="butt" stroke-linejoin="round"/>
<path d="M443,484 C446,470 438,452 445,447 C453,443 455,462 450,480" fill="none" stroke="#fff" stroke-width="3.4000000000000004" stroke-linecap="butt" stroke-linejoin="round"/>
<path d="M424,470 C420,455 422,440 432,434 C445,428 470,430 490,443 C500,450 504,456 505,462 C507,470 509,476 514,478" fill="none" stroke="#444" stroke-width="2.8" stroke-linecap="butt" stroke-linejoin="round"/>
<path d="M424,470 C420,455 422,440 432,434 C445,428 470,430 490,443 C500,450 504,456 505,462 C507,470 509,476 514,478" fill="none" stroke="#fff" stroke-width="0.9999999999999998" stroke-linecap="butt" stroke-linejoin="round"/>
<path d="M429,468 C426,456 429,444 438,440 C452,435 472,437 488,449 C497,456 501,460 502,468 C502,478 501,488 510,493" fill="none" stroke="#444" stroke-width="2.8" stroke-linecap="butt" stroke-linejoin="round"/>
<path d="M429,468 C426,456 429,444 438,440 C452,435 472,437 488,449 C497,456 501,460 502,468 C502,478 501,488 510,493" fill="none" stroke="#fff" stroke-width="0.9999999999999998" stroke-linecap="butt" stroke-linejoin="round"/>
<ellipse cx="521.0" cy="481.0" rx="2.2" ry="2.2" fill="none" stroke="#444" stroke-width="0.92"/>
<line x1="514.0" y1="478.0" x2="519.0" y2="480.0" stroke="#444" stroke-width="1.61" stroke-linecap="round"/>
<ellipse cx="519.0" cy="496.3" rx="2" ry="1.6" fill="none" stroke="#444" stroke-width="0.92"/>
<line x1="510.0" y1="493.0" x2="517.0" y2="496.0" stroke="#444" stroke-width="1.61" stroke-linecap="round"/>
<text transform="matrix(0.88,0,0,1,197.40,183.00)" font-family="Liberation Sans" font-weight="bold" font-size="8.5" text-anchor="middle" fill="#111" stroke="#111" stroke-width="0.25">1</text>
<text transform="matrix(0.88,0,0,1,197.40,192.20)" font-family="Liberation Sans" font-weight="bold" font-size="8.5" text-anchor="middle" fill="#111" stroke="#111" stroke-width="0.25">101</text>
<text transform="matrix(0.88,0,0,1,242.50,209.50)" font-family="Liberation Sans" font-weight="bold" font-size="8.5" text-anchor="middle" fill="#111" stroke="#111" stroke-width="0.25">1</text>
<text transform="matrix(0.88,0,0,1,242.50,219.20)" font-family="Liberation Sans" font-weight="bold" font-size="8.5" text-anchor="middle" fill="#111" stroke="#111" stroke-width="0.25">102</text>
<text transform="matrix(0.88,0,0,1,282.30,227.20)" font-family="Liberation Sans" font-weight="bold" font-size="8.5" text-anchor="middle" fill="#111" stroke="#111" stroke-width="0.25">1</text>
<text transform="matrix(0.88,0,0,1,282.30,236.90)" font-family="Liberation Sans" font-weight="bold" font-size="8.5" text-anchor="middle" fill="#111" stroke="#111" stroke-width="0.25">103</text>
<text transform="matrix(0.88,0,0,1,328.50,252.50)" font-family="Liberation Sans" font-weight="bold" font-size="8.5" text-anchor="middle" fill="#111" stroke="#111" stroke-width="0.25">1</text>
<text transform="matrix(0.88,0,0,1,328.50,262.20)" font-family="Liberation Sans" font-weight="bold" font-size="8.5" text-anchor="middle" fill="#111" stroke="#111" stroke-width="0.25">106</text>
<text transform="matrix(0.88,0,0,1,79.70,233.00)" font-family="Liberation Sans" font-weight="bold" font-size="8.5" text-anchor="middle" fill="#111" stroke="#111" stroke-width="0.25">2</text>
<text transform="matrix(0.88,0,0,1,89.50,395.00)" font-family="Liberation Sans" font-weight="bold" font-size="8.5" text-anchor="middle" fill="#111" stroke="#111" stroke-width="0.25">3</text>
<text transform="matrix(0.88,0,0,1,377.50,472.00)" font-family="Liberation Sans" font-weight="bold" font-size="8.5" text-anchor="middle" fill="#111" stroke="#111" stroke-width="0.25">3</text>
<text transform="matrix(0.88,0,0,1,129.50,423.00)" font-family="Liberation Sans" font-weight="bold" font-size="8.5" text-anchor="middle" fill="#111" stroke="#111" stroke-width="0.25">108</text>
<text transform="matrix(0.88,0,0,1,210.00,466.50)" font-family="Liberation Sans" font-weight="bold" font-size="8.5" text-anchor="middle" fill="#111" stroke="#111" stroke-width="0.25">107</text>
<text transform="matrix(0.88,0,0,1,470.90,389.00)" font-family="Liberation Sans" font-weight="bold" font-size="8.5" text-anchor="middle" fill="#111" stroke="#111" stroke-width="0.25">104</text>
<text transform="matrix(0.88,0,0,1,487.00,526.50)" font-family="Liberation Sans" font-weight="bold" font-size="8.5" text-anchor="middle" fill="#111" stroke="#111" stroke-width="0.25">105</text>
<line x1="196.5" y1="195.6" x2="154.0" y2="258.0" stroke="#555" stroke-width="0.69" stroke-linecap="round"/>
<line x1="242.5" y1="222.1" x2="214.2" y2="281.4" stroke="#555" stroke-width="0.69" stroke-linecap="round"/>
<line x1="281.4" y1="239.8" x2="253.1" y2="306.1" stroke="#555" stroke-width="0.69" stroke-linecap="round"/>
<line x1="327.0" y1="265.0" x2="300.0" y2="330.0" stroke="#555" stroke-width="0.69" stroke-linecap="round"/>
<line x1="80.7" y1="235.1" x2="91.8" y2="259.3" stroke="#555" stroke-width="0.69" stroke-linecap="round"/>
<line x1="90.0" y1="386.5" x2="101.0" y2="316.0" stroke="#555" stroke-width="0.69" stroke-linecap="round"/>
<line x1="90.0" y1="386.5" x2="137.0" y2="334.0" stroke="#555" stroke-width="0.69" stroke-linecap="round"/>
<line x1="131.4" y1="413.0" x2="158.0" y2="348.0" stroke="#555" stroke-width="0.69" stroke-linecap="round"/>
<line x1="211.0" y1="458.0" x2="232.0" y2="398.0" stroke="#555" stroke-width="0.69" stroke-linecap="round"/>
<line x1="381.8" y1="468.7" x2="421.5" y2="464.4" stroke="#555" stroke-width="0.69" stroke-linecap="round"/>
<line x1="470.9" y1="393.6" x2="466.6" y2="429.0" stroke="#555" stroke-width="0.69" stroke-linecap="round"/>
<line x1="488.6" y1="517.5" x2="503.2" y2="492.3" stroke="#555" stroke-width="0.69" stroke-linecap="round"/>
<polyline points="118.0,474.0 317.0,589.5 319.2,593.0 316.0,596.5 133.0,491.0 127.0,492.5 125.0,489.0 124.0,485.0 118.0,481.0 117.0,477.0 118.0,474.0" fill="none" stroke="#444" stroke-width="0.92" stroke-linejoin="round" stroke-linecap="round"/>
<line x1="118.8" y1="475.5" x2="317.0" y2="590.6" stroke="#666" stroke-width="1.03" stroke-linecap="round"/>
<ellipse cx="123.2" cy="480.2" rx="0.7" ry="0.7" fill="#555" stroke="#555" stroke-width="0.57"/>
<ellipse cx="315.2" cy="592.3" rx="0.7" ry="0.7" fill="#555" stroke="#555" stroke-width="0.57"/>
<text transform="matrix(0.88,0,0,1,231.30,507.00)" font-family="Liberation Sans" font-weight="bold" font-size="8.5" text-anchor="middle" fill="#111" stroke="#111" stroke-width="0.25">4</text>
<line x1="229.3" y1="509.5" x2="220.2" y2="531.7" stroke="#555" stroke-width="0.69" stroke-linecap="round"/>
<ellipse cx="207.1" cy="565.2" rx="6.4" ry="6.4" fill="none" stroke="#777" stroke-width="0.92"/>
<text transform="matrix(0.88,0,0,1,207.10,569.00)" font-family="Liberation Sans" font-weight="bold" font-size="10.8" text-anchor="middle" fill="#111" stroke="#111" stroke-width="0.25">A</text>
<ellipse cx="321.9" cy="364.9" rx="5.8" ry="5.8" fill="#fff" stroke="#777" stroke-width="0.92"/>
<text transform="matrix(0.88,0,0,1,321.90,368.00)" font-family="Liberation Sans" font-weight="bold" font-size="9.2" text-anchor="middle" fill="#111" stroke="#111" stroke-width="0.25">A</text>
<line x1="320.5" y1="370.7" x2="320.0" y2="373.0" stroke="#777" stroke-width="0.69" stroke-linecap="round"/>
<text x="483.7" y="653.7" font-family="Liberation Sans" font-size="4.6" fill="#555">ART_1001263002</text>
<!--/SVG-->
</svg>
<!-- TABLE -->
<div class="ln" style="left:680.5px;top:90px;width:496px;height:1px;"></div>
<div class="ln" style="left:680.5px;top:103.7px;width:496px;height:1px;background:#888;"></div>
<div class="ln" style="left:680.5px;top:287.5px;width:496px;height:1px;"></div>
<div class="ln" style="left:680.5px;top:90px;width:1px;height:198.5px;"></div>
<div class="ln" style="left:733.5px;top:90px;width:1px;height:198.5px;"></div>
<div class="ln" style="left:817px;top:90px;width:1px;height:198.5px;"></div>
<div class="ln" style="left:863px;top:90px;width:1px;height:198.5px;"></div>
<div class="ln" style="left:1139.8px;top:90px;width:1px;height:198.5px;"></div>
<div class="ln" style="left:1176px;top:90px;width:1px;height:198.5px;"></div>
<!--TBL-->
<div class="t tb b c" style="left:707.5px;top:94.20px;">ITEM</div>
<div class="t tb b c" style="left:775.5px;top:94.20px;">PART NUMBER</div>
<div class="t tb b c" style="left:840.2px;top:94.20px;">QTY</div>
<div class="t tb b c" style="left:1002px;top:94.20px;">DESCRIPTION</div>
<div class="t tb b c" style="left:1158.5px;top:94.20px;">REV</div>
<div class="t tb c" style="left:775.5px;top:107.20px;">1001263002</div>
<div class="t tb c" style="left:840.2px;top:107.20px;">Ref</div>
<div class="t tb" style="left:866px;top:107.20px;">BATTERIES INSTALLATION - STANDARD BATTERIES</div>
<div class="t tb c" style="left:1158.5px;top:107.20px;">C</div>
<div class="t tb c" style="left:707.5px;top:121.20px;">1</div>
<div class="t tb c" style="left:775.5px;top:121.20px;">0100051</div>
<div class="t tb c" style="left:840.2px;top:121.20px;">AR</div>
<div class="t tb" style="left:872px;top:121.20px;">Grease, Terminal</div>
<div class="t tb c" style="left:707.5px;top:134.20px;">2</div>
<div class="t tb c" style="left:775.5px;top:134.20px;">1001258498</div>
<div class="t tb c" style="left:840.2px;top:134.20px;">4</div>
<div class="t tb" style="left:872px;top:134.20px;">Battery</div>
<div class="t tb c" style="left:707.5px;top:147.20px;">3</div>
<div class="t tb c" style="left:775.5px;top:147.20px;">4240017</div>
<div class="t tb c" style="left:840.2px;top:147.20px;">AR</div>
<div class="t tb" style="left:872px;top:147.20px;">Tie-Strap</div>
<div class="t tb c" style="left:707.5px;top:160.20px;">4</div>
<div class="t tb c" style="left:775.5px;top:160.20px;">1001239269</div>
<div class="t tb c" style="left:840.2px;top:160.20px;">1</div>
<div class="t tb" style="left:872px;top:160.20px;">Bar</div>
<div class="t tb c" style="left:707.5px;top:173.20px;">100</div>
<div class="t tb c" style="left:775.5px;top:173.20px;">1001262094</div>
<div class="t tb c" style="left:840.2px;top:173.20px;">1</div>
<div class="t tb" style="left:872px;top:173.20px;">Cable, Electrical Kit</div>
<div class="t tb c" style="left:707.5px;top:187.20px;">101</div>
<div class="t tb c" style="left:775.5px;top:187.20px;">1060998</div>
<div class="t tb c" style="left:840.2px;top:187.20px;">1</div>
<div class="t tb" style="left:878px;top:187.20px;">Cable, Positive to Negative</div>
<div class="t tb c" style="left:707.5px;top:200.20px;">102</div>
<div class="t tb c" style="left:775.5px;top:200.20px;">4923328</div>
<div class="t tb c" style="left:840.2px;top:200.20px;">1</div>
<div class="t tb" style="left:878px;top:200.20px;">Cable, Positive to Negative</div>
<div class="t tb c" style="left:707.5px;top:213.20px;">103</div>
<div class="t tb c" style="left:775.5px;top:213.20px;">1001264310</div>
<div class="t tb c" style="left:840.2px;top:213.20px;">1</div>
<div class="t tb" style="left:878px;top:213.20px;">Cable, Battery Fuse</div>
<div class="t tb c" style="left:707.5px;top:226.20px;">104</div>
<div class="t tb c" style="left:775.5px;top:226.20px;">1001243232</div>
<div class="t tb c" style="left:840.2px;top:226.20px;">1</div>
<div class="t tb" style="left:878px;top:226.20px;">Cable, Pump Positive</div>
<div class="t tb c" style="left:707.5px;top:239.20px;">105</div>
<div class="t tb c" style="left:775.5px;top:239.20px;">1001243233</div>
<div class="t tb c" style="left:840.2px;top:239.20px;">1</div>
<div class="t tb" style="left:878px;top:239.20px;">Cable, Pump Negative</div>
<div class="t tb c" style="left:707.5px;top:253.20px;">106</div>
<div class="t tb c" style="left:775.5px;top:253.20px;">1001259017</div>
<div class="t tb c" style="left:840.2px;top:253.20px;">1</div>
<div class="t tb" style="left:878px;top:253.20px;">Cable, Battery to Contactor</div>
<div class="t tb c" style="left:707.5px;top:266.20px;">107</div>
<div class="t tb c" style="left:775.5px;top:266.20px;">1001262092</div>
<div class="t tb c" style="left:840.2px;top:266.20px;">1</div>
<div class="t tb" style="left:878px;top:266.20px;">Cable, Contactor to Module B+</div>
<div class="t tb c" style="left:707.5px;top:279.20px;">108</div>
<div class="t tb c" style="left:775.5px;top:279.20px;">1001262093</div>
<div class="t tb c" style="left:840.2px;top:279.20px;">1</div>
<div class="t tb" style="left:878px;top:279.20px;">Cable, Battery- to Module B-</div>
<!--/TBL-->
</body></html>
